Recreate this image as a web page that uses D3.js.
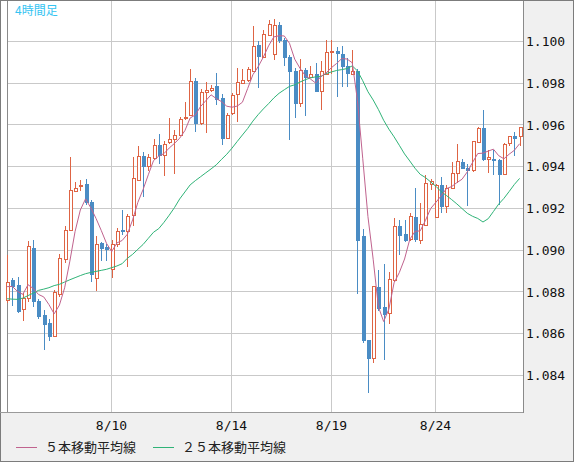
<!DOCTYPE html>
<html>
<head>
<meta charset="utf-8">
<script src="https://cdn.jsdelivr.net/npm/d3@7"></script>
<style>
    body {margin: 0; background: #fff;}
    svg {display: block;}
</style>
</head>
<body>
<svg id="chart" width="574" height="462"></svg>
<script>
//4 hour candles, oldest first
var opens = [1.08759, 1.08855, 1.08831, 1.08719, 1.08770, 1.09012, 1.08756, 1.08687, 1.08649, 1.08590,
    1.08791, 1.08959, 1.09098, 1.09284, 1.09306, 1.09316, 1.09231, 1.08868, 1.09036, 1.09015,
    1.08911, 1.09031, 1.09095, 1.09092, 1.09167, 1.09338, 1.09450, 1.09402, 1.09442, 1.09503,
    1.09458, 1.09516, 1.09535, 1.09554, 1.09631, 1.09650, 1.09812, 1.09607, 1.09757, 1.09767,
    1.09785, 1.09727, 1.09538, 1.09655, 1.09746, 1.09802, 1.09815, 1.09860, 1.09983, 1.09927,
    1.10031, 1.09938, 1.10079, 1.10007, 1.09927, 1.09860, 1.09706, 1.09863, 1.09831, 1.09844,
    1.09764, 1.09844, 1.09951, 1.09956, 1.09940, 1.09882, 1.09844, 1.09860, 1.09066, 1.08567,
    1.08482, 1.08823, 1.08727, 1.08700, 1.08855, 1.09114, 1.09076, 1.09055, 1.09159, 1.09050,
    1.09122, 1.09319, 1.09159, 1.09311, 1.09210, 1.09300, 1.09372, 1.09423, 1.09394, 1.09383,
    1.09519, 1.09586, 1.09436, 1.09439, 1.09434, 1.09367, 1.09514, 1.09546, 1.09548];

var highs = [1.08975, 1.08866, 1.08871, 1.08794, 1.09044, 1.09047, 1.08767, 1.08711, 1.08671, 1.08807,
    1.08983, 1.09114, 1.09447, 1.09327, 1.09338, 1.09343, 1.09239, 1.09066, 1.09038, 1.09031,
    1.09047, 1.09108, 1.09191, 1.09175, 1.09447, 1.09498, 1.09471, 1.09460, 1.09535, 1.09556,
    1.09524, 1.09634, 1.09578, 1.09636, 1.09709, 1.09866, 1.09823, 1.09772, 1.09807, 1.09790,
    1.09850, 1.09748, 1.09657, 1.09751, 1.09871, 1.09866, 1.09876, 1.10074, 1.10002, 1.10055,
    1.10103, 1.10108, 1.10095, 1.10017, 1.09935, 1.09871, 1.09914, 1.09871, 1.09882, 1.09895,
    1.09908, 1.10007, 1.10007, 1.09975, 1.09978, 1.09919, 1.09959, 1.09866, 1.09103, 1.08570,
    1.08830, 1.08903, 1.08935, 1.08895, 1.09156, 1.09143, 1.09143, 1.09178, 1.09298, 1.09226,
    1.09359, 1.09343, 1.09316, 1.09351, 1.09311, 1.09423, 1.09511, 1.09439, 1.09415, 1.09525,
    1.09590, 1.09674, 1.09482, 1.09479, 1.09439, 1.09514, 1.09549, 1.09564, 1.09591];

var lows = [1.08751, 1.08735, 1.08703, 1.08666, 1.08756, 1.08730, 1.08673, 1.08524, 1.08567, 1.08588,
    1.08778, 1.08941, 1.09095, 1.09282, 1.09290, 1.09223, 1.08850, 1.08810, 1.08951, 1.08951,
    1.08871, 1.09018, 1.09079, 1.08924, 1.09119, 1.09336, 1.09260, 1.09386, 1.09439, 1.09418,
    1.09360, 1.09513, 1.09370, 1.09552, 1.09628, 1.09648, 1.09572, 1.09605, 1.09567, 1.09765,
    1.09700, 1.09511, 1.09536, 1.09653, 1.09620, 1.09800, 1.09813, 1.09858, 1.09783, 1.09924,
    1.10029, 1.09914, 1.09999, 1.09887, 1.09535, 1.09639, 1.09690, 1.09647, 1.09829, 1.09762,
    1.09676, 1.09842, 1.09847, 1.09740, 1.09786, 1.09786, 1.09842, 1.08794, 1.08559, 1.08319,
    1.08463, 1.08711, 1.08479, 1.08653, 1.08853, 1.08980, 1.09042, 1.09047, 1.09042, 1.09034,
    1.09120, 1.09295, 1.09157, 1.09183, 1.09183, 1.09298, 1.09327, 1.09393, 1.09215, 1.09381,
    1.09517, 1.09430, 1.09375, 1.09367, 1.09223, 1.09365, 1.09503, 1.09455, 1.09506];

var closes = [1.08847, 1.08826, 1.08706, 1.08772, 1.09020, 1.08756, 1.08684, 1.08647, 1.08588, 1.08799,
    1.08964, 1.09098, 1.09287, 1.09300, 1.09312, 1.09231, 1.08887, 1.09031, 1.09012, 1.09004,
    1.09031, 1.09094, 1.09090, 1.09162, 1.09348, 1.09450, 1.09402, 1.09444, 1.09502, 1.09455,
    1.09511, 1.09535, 1.09554, 1.09628, 1.09637, 1.09812, 1.09610, 1.09756, 1.09767, 1.09777,
    1.09722, 1.09538, 1.09646, 1.09742, 1.09804, 1.09815, 1.09866, 1.09978, 1.09932, 1.10036,
    1.10084, 1.10079, 1.10007, 1.09927, 1.09860, 1.09703, 1.09863, 1.09831, 1.09844, 1.09764,
    1.09858, 1.09949, 1.09956, 1.09946, 1.09882, 1.09847, 1.09860, 1.09047, 1.08567, 1.08482,
    1.08826, 1.08722, 1.08692, 1.08863, 1.09114, 1.09071, 1.09047, 1.09162, 1.09055, 1.09127,
    1.09322, 1.09332, 1.09311, 1.09210, 1.09298, 1.09372, 1.09426, 1.09394, 1.09386, 1.09522,
    1.09586, 1.09436, 1.09444, 1.09431, 1.09367, 1.09511, 1.09546, 1.09538, 1.09588];

//moving averages on the first bars need older candles that are off screen ->
var ma5Head = [1.08825, 1.08826, 1.08802, 1.08788];
var ma25Head = [1.08767, 1.08765, 1.08764, 1.08770, 1.08782, 1.08794, 1.08807, 1.08813, 1.08820, 1.08830,
    1.08836, 1.08847, 1.08858, 1.08868, 1.08878, 1.08887, 1.08893, 1.08898, 1.08903, 1.08908,
    1.08916, 1.08924, 1.08935, 1.08961];

//axis labels
var dateLabels = ["8/10", "8/14", "8/19", "8/24"],
    dateIndex = [20, 43, 62, 82],
    priceTicks = [1.084, 1.086, 1.088, 1.090, 1.092, 1.094, 1.096, 1.098, 1.100];

var legendNames = ["５本移動平均線", "２５本移動平均線"];

var svg = d3.select("#chart"),
    width = +svg.attr("width"),
    height = +svg.attr("height"),
    plot = {left: 7, right: 523, top: 1, bottom: 412},
    upColor = "#de6444",
    downColor = "#4a8cc4",
    ma5Color = "#c0638e",
    ma25Color = "#2fb377",
    gridColor = "#c9c9c9",
    monoFont = "'DejaVu Sans Mono', monospace",
    jpFont = "'Noto Sans CJK JP', sans-serif";

var x = d3.scaleLinear().domain([0, closes.length - 1]).range([7.1, 519.6]);
var y = d3.scaleLinear().domain([1.084, 1.100]).range([375.3, 41.5]);

//moving averages
function movingAverage(n, head) {
    return closes.map(function (c, i) {
        if (i < n - 1) return head[i];
        return d3.mean(closes.slice(i - n + 1, i + 1));
    });
}
var ma5 = movingAverage(5, ma5Head),
    ma25 = movingAverage(25, ma25Head);

//frame
svg.append("rect")
    .attr("x", 0.5).attr("y", 0.5)
    .attr("width", width - 1).attr("height", height - 1)
    .attr("fill", "#f0f0f0")
    .attr("stroke", "#7c7c7c");

svg.append("rect")
    .attr("x", 1).attr("y", 1)
    .attr("width", plot.right - 1).attr("height", plot.bottom - 1)
    .attr("fill", "#fff");

//grid
var grid = svg.append("g").attr("shape-rendering", "crispEdges");
grid.selectAll(".hgrid").data(priceTicks).enter().append("line")
    .attr("x1", plot.left).attr("x2", plot.right)
    .attr("y1", function (d) { return Math.floor(y(d)) + 0.5; })
    .attr("y2", function (d) { return Math.floor(y(d)) + 0.5; })
    .attr("stroke", gridColor);
grid.selectAll(".vgrid").data(dateIndex).enter().append("line")
    .attr("y1", plot.top).attr("y2", plot.bottom)
    .attr("x1", function (d) { return Math.floor(x(d)) + 0.5; })
    .attr("x2", function (d) { return Math.floor(x(d)) + 0.5; })
    .attr("stroke", gridColor);

//plot borders
grid.append("line").attr("x1", 7.5).attr("x2", 7.5).attr("y1", 0).attr("y2", plot.bottom)
    .attr("stroke", "#8a8a8a");
grid.append("line").attr("x1", plot.right + 0.5).attr("x2", plot.right + 0.5).attr("y1", 0).attr("y2", plot.bottom + 1)
    .attr("stroke", "#8a8a8a");
grid.append("line").attr("x1", 0).attr("x2", plot.right).attr("y1", plot.bottom + 0.5).attr("y2", plot.bottom + 0.5)
    .attr("stroke", "#9a9a9a");
grid.append("line").attr("x1", 0).attr("x2", width).attr("y1", 0.5).attr("y2", 0.5)
    .attr("stroke", "#7c7c7c");

//candles
var candles = closes.map(function (c, i) {
    return {i: i, o: opens[i], h: highs[i], l: lows[i], c: c, up: c >= opens[i]};
});

var candle = svg.append("g").attr("class", "candles").attr("shape-rendering", "crispEdges")
    .selectAll(".candle").data(candles).enter().append("g").attr("class", "candle");

candle.append("line")
    .attr("x1", function (d) { return Math.round(x(d.i)) + 0.5; })
    .attr("x2", function (d) { return Math.round(x(d.i)) + 0.5; })
    .attr("y1", function (d) { return Math.round(y(d.h)); })
    .attr("y2", function (d) { return Math.round(y(d.l)) + 1; })
    .attr("stroke", function (d) { return d.up ? upColor : downColor; });

candle.append("rect")
    .each(function (d) {
        var cx = Math.round(x(d.i)),
            top = Math.round(y(Math.max(d.o, d.c))),
            bottom = Math.round(y(Math.min(d.o, d.c)));
        var r = d3.select(this);
        if (d.up) {
            r.attr("x", cx - 0.5).attr("y", top + 0.5)
                .attr("width", 3).attr("height", Math.max(bottom - top, 1))
                .attr("fill", "#fff").attr("stroke", upColor);
        } else {
            r.attr("x", cx - 1).attr("y", top)
                .attr("width", 4).attr("height", Math.max(bottom - top + 1, 2))
                .attr("fill", downColor);
        }
    });

//moving average lines
var line = d3.line()
    .x(function (d, i) { return x(i); })
    .y(function (d) { return y(d); });

svg.append("path").datum(ma25)
    .attr("d", line).attr("fill", "none")
    .attr("stroke", ma25Color).attr("stroke-width", 1);
svg.append("path").datum(ma5)
    .attr("d", line).attr("fill", "none")
    .attr("stroke", ma5Color).attr("stroke-width", 1);

//price labels on the right
svg.append("g").selectAll("text").data(priceTicks).enter().append("text")
    .attr("x", 526)
    .attr("y", function (d) { return y(d); })
    .attr("dy", "0.36em")
    .attr("font-family", monoFont).attr("font-size", 13)
    .attr("fill", "#111")
    .text(function (d) { return d3.format(".3f")(d); });

//date labels
svg.append("g").selectAll("text").data(dateLabels).enter().append("text")
    .attr("x", function (d, i) { return Math.floor(x(dateIndex[i])) + 0.5; })
    .attr("y", 425)
    .attr("dy", "0.36em")
    .attr("text-anchor", "middle")
    .attr("font-family", monoFont).attr("font-size", 13)
    .attr("fill", "#111")
    .text(function (d) { return d; });

//title
svg.append("text")
    .attr("x", 15).attr("y", 15)
    .attr("font-family", jpFont).attr("font-size", 12)
    .attr("fill", "#34c4f2")
    .text("4時間足");

//legend
var legend = svg.append("g").selectAll("g").data(legendNames).enter().append("g")
    .attr("transform", function (d, i) { return "translate(" + [i ? 153 : 16, 447] + ")"; });
legend.append("line")
    .attr("x1", 0).attr("x2", 21).attr("y1", 0.5).attr("y2", 0.5)
    .attr("stroke", function (d, i) { return i ? ma25Color : ma5Color; });
legend.append("text")
    .attr("x", 29).attr("y", 0).attr("dy", "0.36em")
    .attr("font-family", jpFont).attr("font-size", 13)
    .attr("fill", "#222")
    .text(function (d) { return d; });
</script>
</body>
</html>
